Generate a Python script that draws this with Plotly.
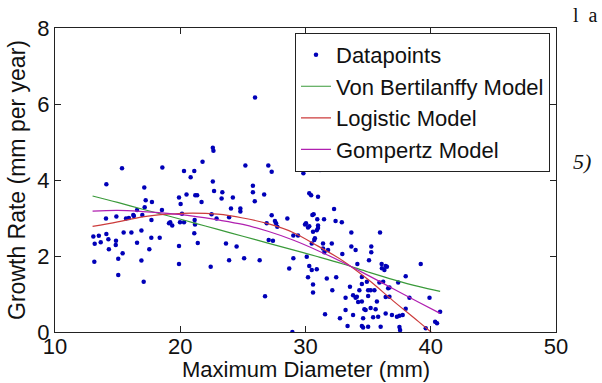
import plotly.graph_objects as go

# Scatter data
pts = [
    (13.06,2.51),(13.5,2.53),(13.17,2.32),(13.65,2.36),(14.1,2.58),(14.26,2.44),(14.3,2.18),
    (14.07,2.99),(14.9,3.04),(14.87,2.4),(14.85,2.29),(13.14,1.85),(14.1,3.89),
    (15.35,4.31),(15.48,2.62),(15.67,2.99),(15.9,3.0),(16.25,3.08),(16.55,3.21),(16.1,2.62),
    (16.55,2.35),(16.9,2.67),(16.97,3.08),(17.16,3.28),(15.05,1.93),(15.4,2.07),(15.05,1.5),
    (16.9,1.88),(17.08,1.32),(17.13,3.8),(16.3,3.05),
    (17.24,3.47),(17.74,3.42),(17.69,2.48),(17.53,2.18),(18.36,2.48),(18.54,3.21),(17.7,2.95),
    (18.57,4.33),(19.2,2.89),(19.36,2.8),(19.1,2.86),
    (19.9,3.54),(20.03,3.37),(20.5,3.62),(21.2,3.6),(21.35,3.6),(21.7,3.42),(19.98,2.89),
    (20.3,2.89),(20.14,3.11),(19.9,2.26),(21.18,2.83),(21.15,2.95),(21.12,2.6),(21.4,2.34),
    (19.9,1.79),(20.3,4.24),(20.83,4.07),(21.12,4.24),(21.78,4.48),
    (22.6,4.85),(22.65,4.77),(22.6,3.96),(22.7,3.71),(23.36,3.68),(23.3,3.51),(24.2,3.54),
    (22.5,3.1),(22.9,2.99),(23.9,3.02),(23.65,2.33),(22.43,1.72),(23.9,1.89),(24.05,3.25),
    (24.8,3.25),(24.8,3.17),(24.5,2.25),
    (25.2,4.38),(25.8,3.85),(25.8,3.68),(25.95,3.44),(25.97,6.17),(26.7,3.62),(27.03,4.38),
    (27.3,4.22),(27.3,3.07),(26.9,2.86),(27.56,2.92),(27.65,2.86),(27.75,2.77),(27.06,2.42),
    (27.4,2.4),(25.1,1.94),(26.34,1.89),(26.77,0.94),
    (28.55,2.99),(29.4,2.54),(29.03,2.54),(28.7,1.67),(29.03,1.94),(28.95,0.0),(29.83,4.18),
    (30.2,4.55),(29.96,2.83),(30.04,2.86),(30.1,1.98),(30.3,1.74),(30.5,1.63),(30.2,1.44),
    (30.3,3.65),(30.45,3.6),(31.0,3.56),(31.16,4.26),(31.1,4.28),(30.55,3.08),(30.65,3.1),
    (30.94,2.97),(31.48,2.97),(31.0,2.8),(31.0,2.74),(30.6,2.64),(30.9,2.68),(30.3,2.78),
    (30.2,2.75),(30.7,2.42),(30.75,2.47),(30.5,2.33),(31.4,2.33),(31.4,2.2),(31.5,2.1),
    (31.8,2.16),(30.9,1.65),(30.6,1.25),(30.6,1.04),(31.7,1.41),(31.56,0.47),
    (32.28,3.24),(32.4,2.92),(32.9,2.89),(32.1,2.33),(32.94,2.05),(33.66,2.62),(33.66,2.25),
    (34.0,2.16),(32.45,1.44),(32.14,1.1),(32.75,0.36),(33.2,0.9),(33.2,0.58),(33.36,0.16),
    (33.55,1.19),(33.8,0.97),(34.0,0.9),(34.2,0.79),(33.8,0.45),(34.14,1.79),(34.6,4.55),
    (35.25,2.25),(35.25,2.1),(35.07,1.89),(35.95,2.62),(34.5,1.26),(35.0,1.1),(35.2,1.1),
    (34.5,0.8),(34.7,0.6),(34.8,0.58),(34.6,0.36),(34.5,0.16),(34.6,0.12),(35.0,0.14),
    (35.2,0.63),(35.4,0.39),(35.6,0.6),(35.7,0.8),(35.8,0.4),(36.0,0.14),(36.08,1.79),
    (36.4,1.74),(36.1,1.68),(36.2,1.32),(36.6,1.15),(36.4,0.92),(36.7,0.93),(36.4,0.49),
    (36.9,0.45),(37.3,0.4),(37.5,0.43),(37.4,1.3),(38.0,1.47),(37.76,0.45),(37.5,0.13),
    (37.55,0.05),(38.0,0.61),(38.3,0.9),(39.2,1.79),(39.9,0.9),(39.6,0.1),(40.35,0.27),
    (40.5,0.23),(40.75,0.53),
    (34.5,1.45),(34.9,1.32),(34.3,1.1),(35.5,1.1),(35.9,1.3),(36.7,1.17),(34.1,0.93),
    (35.0,0.95),(36.3,1.63),(36.5,1.72),
]
data_x = [p[0] for p in pts]
data_y = [p[1] for p in pts]

# Model curves
vb_x = [13, 15, 17, 19, 21, 23, 25, 27, 29, 31, 33, 35, 37, 39, 40.75]
vb_y = [3.58, 3.41, 3.23, 3.06, 2.88, 2.70, 2.52, 2.34, 2.16, 1.98, 1.79, 1.58, 1.38, 1.2, 1.07]

log_x = [13, 15, 17, 19, 21, 23, 25, 27, 29, 31, 33, 35, 37, 39, 40.75]
log_y = [2.78, 2.9, 3.03, 3.1, 3.13, 3.1, 3.0, 2.85, 2.62, 2.26, 1.87, 1.38, 0.82, 0.28, -0.2]

gom_x = [13, 15, 17, 19, 21, 23, 25, 27, 29, 31, 33, 35, 37, 39, 40.75]
gom_y = [3.18, 3.2, 3.17, 3.12, 3.05, 2.95, 2.83, 2.65, 2.42, 2.14, 1.83, 1.49, 1.14, 0.79, 0.49]

x_ticks = [10, 20, 30, 40, 50]
y_ticks = [0, 2, 4, 6, 8]

FONT = "Arial, Liberation Sans, sans-serif"

fig = go.Figure()
fig.add_trace(go.Scatter(x=data_x, y=data_y, mode="markers", name="Datapoints",
                         marker=dict(color="#0000b8", size=4.5, symbol="circle")))
fig.add_trace(go.Scatter(x=vb_x, y=vb_y, mode="lines", name="Von Bertilanffy Model",
                         line=dict(color="#3a9a3a", width=1.2, shape="spline")))
fig.add_trace(go.Scatter(x=log_x, y=log_y, mode="lines", name="Logistic Model",
                         line=dict(color="#cc3b3b", width=1.2, shape="spline")))
fig.add_trace(go.Scatter(x=gom_x, y=gom_y, mode="lines", name="Gompertz Model",
                         line=dict(color="#b020b0", width=1.2, shape="spline")))

axis_common = dict(showline=True, linecolor="#222", linewidth=1, mirror="ticks",
                   ticks="inside", ticklen=6, tickcolor="#222", showgrid=False,
                   zeroline=False, automargin=False,
                   tickfont=dict(family=FONT, size=22, color="#111"))

fig.update_layout(
    width=602, height=383,
    margin=dict(l=55, r=46, t=28, b=51),
    paper_bgcolor="white", plot_bgcolor="white",
    font=dict(family=FONT, color="#111"),
    showlegend=True,
    legend=dict(x=0.988, y=0.984, xanchor="right", yanchor="top",
                bordercolor="#222", borderwidth=1, bgcolor="white",
                font=dict(family=FONT, size=22, color="#111"),
                tracegroupgap=0),
    xaxis=dict(range=[10, 50], tickvals=x_ticks, ticktext=[str(v) for v in x_ticks],
               ticklabelstandoff=-5, **axis_common),
    yaxis=dict(range=[0, 8], tickvals=y_ticks, ticktext=[str(v) for v in y_ticks],
               title=dict(text="Growth Rate (mm per year)", font=dict(family=FONT, size=23),
                          standoff=5), **axis_common),
)

# x-axis title
fig.add_annotation(text="Maximum Diameter (mm)", xref="paper", yref="paper",
                   x=0.5, y=-0.122, xanchor="center", yanchor="middle", showarrow=False,
                   font=dict(family=FONT, size=22, color="#111"))

fig.add_annotation(text="l  a", xref="paper", yref="paper", x=1.03, y=1.0,
                   xanchor="left", yanchor="bottom", showarrow=False,
                   font=dict(family="Liberation Serif, serif", size=20, color="#111"))
fig.add_annotation(text="<i>5)</i>", xref="paper", yref="paper", x=1.03, y=0.56,
                   xanchor="left", yanchor="middle", showarrow=False,
                   font=dict(family="Liberation Serif, serif", size=22, color="#111"))

fig.write_html("out.html")
